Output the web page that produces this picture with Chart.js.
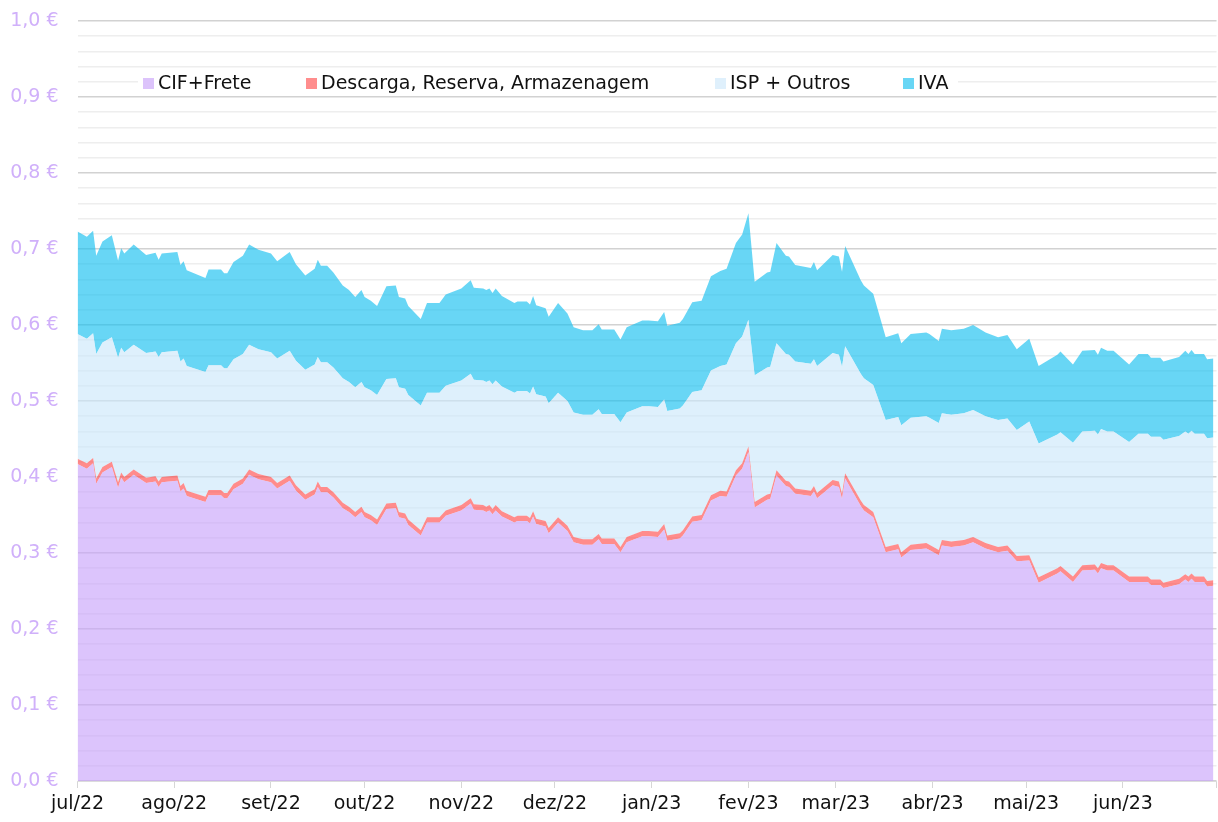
<!DOCTYPE html>
<html>
<head>
<meta charset="utf-8">
<script src="https://cdn.jsdelivr.net/npm/chart.js@4/dist/chart.umd.min.js"></script>
<style>
html,body{margin:0;padding:0;background:#fff;}
#wrap{width:1218px;height:822px;position:relative;}
</style>
</head>
<body>
<div id="wrap"><canvas id="c"></canvas></div>
<script>
// Day offsets since 1 Jul 2022
const days = [0,3,5,6,8,11,13,14,15,18,22,25,26,27,32,33,34,35,41,42,46,47,48,50,53,55,58,62,64,68,70,73,76,77,78,80,82,85,87,89,91,92,94,96,99,102,103,105,106,110,112,116,118,123,126,127,130,131,132,133,134,136,140,141,144,145,146,147,150,151,154,157,159,162,165,167,168,172,174,176,181,183,186,188,189,193,194,197,200,203,206,208,211,213,215,217,221,222,224,227,228,230,235,236,237,242,244,245,246,251,252,255,259,263,264,267,272,273,276,277,280,284,287,291,295,298,301,305,308,314,315,319,322,326,327,328,330,332,337,340,343,344,347,348,353,355,356,357,358,361,362,364];

const cifFrete = [0.417,0.411,0.418,0.391,0.406,0.413,0.386,0.399,0.393,0.403,0.392,0.394,0.387,0.393,0.395,0.381,0.385,0.375,0.367,0.376,0.376,0.372,0.372,0.384,0.391,0.403,0.397,0.393,0.385,0.395,0.382,0.370,0.377,0.387,0.380,0.380,0.373,0.359,0.354,0.347,0.354,0.347,0.343,0.337,0.358,0.359,0.347,0.345,0.337,0.323,0.340,0.340,0.349,0.356,0.365,0.357,0.356,0.354,0.356,0.351,0.356,0.348,0.340,0.342,0.342,0.339,0.348,0.338,0.335,0.326,0.340,0.329,0.314,0.311,0.311,0.318,0.312,0.312,0.301,0.314,0.322,0.322,0.321,0.331,0.316,0.319,0.323,0.341,0.343,0.369,0.375,0.374,0.402,0.411,0.433,0.360,0.370,0.371,0.402,0.388,0.387,0.378,0.375,0.381,0.372,0.389,0.387,0.371,0.398,0.362,0.356,0.347,0.301,0.305,0.294,0.304,0.306,0.304,0.297,0.310,0.308,0.310,0.314,0.306,0.301,0.303,0.289,0.290,0.261,0.273,0.276,0.262,0.277,0.278,0.273,0.280,0.277,0.277,0.262,0.262,0.262,0.258,0.258,0.254,0.259,0.265,0.262,0.266,0.262,0.262,0.256,0.257];

const descarga = [0.007,0.007,0.007,0.007,0.007,0.007,0.007,0.007,0.007,0.007,0.007,0.007,0.007,0.007,0.007,0.007,0.007,0.007,0.007,0.007,0.007,0.007,0.007,0.007,0.007,0.007,0.007,0.007,0.007,0.007,0.007,0.007,0.007,0.007,0.007,0.007,0.007,0.007,0.007,0.007,0.007,0.007,0.007,0.007,0.007,0.007,0.007,0.007,0.007,0.007,0.007,0.007,0.007,0.007,0.007,0.007,0.007,0.007,0.007,0.007,0.007,0.007,0.007,0.007,0.007,0.007,0.007,0.007,0.007,0.007,0.007,0.007,0.007,0.007,0.007,0.007,0.007,0.007,0.007,0.007,0.007,0.007,0.007,0.007,0.007,0.007,0.007,0.007,0.007,0.007,0.007,0.007,0.007,0.007,0.007,0.007,0.007,0.007,0.007,0.007,0.007,0.007,0.007,0.007,0.007,0.007,0.007,0.007,0.007,0.007,0.007,0.007,0.007,0.007,0.007,0.007,0.007,0.007,0.007,0.007,0.007,0.007,0.007,0.007,0.007,0.007,0.007,0.007,0.007,0.007,0.007,0.007,0.007,0.007,0.007,0.007,0.007,0.007,0.007,0.007,0.007,0.007,0.007,0.007,0.007,0.007,0.007,0.007,0.007,0.007,0.007,0.007];

const ispOutros = [0.164,0.164,0.164,0.164,0.164,0.164,0.164,0.164,0.164,0.164,0.164,0.164,0.164,0.164,0.164,0.164,0.164,0.164,0.164,0.164,0.164,0.164,0.164,0.164,0.164,0.164,0.164,0.164,0.164,0.164,0.164,0.164,0.164,0.164,0.164,0.164,0.164,0.164,0.164,0.164,0.164,0.164,0.164,0.164,0.164,0.164,0.164,0.164,0.164,0.164,0.164,0.164,0.164,0.164,0.164,0.164,0.164,0.164,0.164,0.164,0.164,0.164,0.164,0.164,0.164,0.164,0.164,0.164,0.164,0.164,0.164,0.164,0.164,0.164,0.164,0.164,0.164,0.164,0.164,0.164,0.164,0.164,0.164,0.164,0.164,0.164,0.164,0.164,0.164,0.164,0.164,
0.167,0.167,0.167,0.167,0.167,0.167,0.167,0.167,0.167,0.167,0.167,0.167,0.167,0.167,0.167,0.167,0.167,0.167,0.167,0.167,0.167,0.167,0.167,0.167,0.167,0.167,0.167,0.167,0.167,0.167,0.167,0.167,0.167,0.167,0.167,0.166,0.176,
0.176,0.176,0.176,0.176,0.176,0.176,0.176,0.176,0.176,0.176,0.177,
0.188,0.188,0.188,0.188,0.188,0.188,0.188,0.188,0.188,0.188,0.188,0.188,0.188];

const iva = [0.135,0.134,0.135,0.129,0.133,0.134,0.128,0.131,0.130,0.132,0.129,0.130,0.128,0.130,0.130,0.127,0.128,0.126,0.124,0.126,0.126,0.125,0.125,0.128,0.129,0.132,0.131,0.130,0.128,0.130,0.127,0.124,0.126,0.128,0.127,0.127,0.125,0.122,0.121,0.119,0.121,0.119,0.118,0.117,0.122,0.122,0.119,0.119,0.117,0.114,0.118,0.118,0.120,0.121,0.123,0.121,0.121,0.121,0.121,0.120,0.121,0.119,0.118,0.118,0.118,0.117,0.119,0.117,0.116,0.114,0.118,0.115,0.112,0.111,0.111,0.112,0.111,0.111,0.109,0.112,0.113,0.113,0.113,0.115,0.112,0.113,0.114,0.118,0.118,0.124,0.125,
0.126,0.132,0.134,0.140,0.123,0.125,0.125,0.132,0.129,0.129,0.127,0.126,0.128,0.126,0.129,0.129,0.125,0.132,0.123,0.122,0.120,0.109,0.110,0.108,0.110,0.110,0.110,0.108,0.111,0.111,0.111,0.112,0.110,0.109,0.110,0.106,0.109,
0.102,0.105,0.106,0.103,0.106,0.106,0.105,0.107,0.106,0.106,0.102,
0.105,0.105,0.104,0.104,0.103,0.104,0.106,0.105,0.106,0.105,0.105,0.104,0.104];

const seriesNames = ['CIF+Frete','Descarga, Reserva, Armazenagem','ISP + Outros','IVA'];
const monthTickDays = [0,31,62,92,123,153,184,215,243,274,304,335,365];
const monthLabels = ['jul/22','ago/22','set/22','out/22','nov/22','dez/22','jan/23','fev/23','mar/23','abr/23','mai/23','jun/23',''];

const fills = ['rgba(201,164,250,0.65)','rgba(255,78,78,0.65)','rgba(204,232,250,0.65)','rgba(23,192,240,0.65)'];
const legendBox = ['#dcc3fb','#ff8d8d','#dff0fc','#68d6f5'];
const legendX = [143,306,715,903];

const toPts = arr => arr.map((v,i)=>({x:days[i], y:v}));
const allSeries = [cifFrete, descarga, ispOutros, iva];

const FONT = '"DejaVu Sans", sans-serif';

const legendPlugin = {
  id:'customLegend',
  afterDraw(chart){
    const ctx = chart.ctx;
    ctx.save();
    ctx.fillStyle = '#ffffff';
    ctx.fillRect(138, 72, 820, 21);
    ctx.font = '19px ' + FONT;
    ctx.textBaseline = 'middle';
    ctx.textAlign = 'left';
    seriesNames.forEach((n,i)=>{
      const x = legendX[i];
      ctx.fillStyle = legendBox[i];
      ctx.fillRect(x, 78, 11, 11);
      ctx.fillStyle = '#111111';
      ctx.fillText(n, x + 15, 84);
    });
    ctx.restore();
  }
};

new Chart(document.getElementById('c'), {
  type:'line',
  data:{
    datasets: allSeries.map((arr,i)=>({
      label: seriesNames[i],
      data: toPts(arr),
      backgroundColor: fills[i],
      borderColor: 'rgba(0,0,0,0)',
      borderWidth: 0,
      pointRadius: 0,
      pointHoverRadius: 0,
      tension: 0,
      fill: i===0 ? 'origin' : '-1'
    }))
  },
  options:{
    responsive:true,
    maintainAspectRatio:false,
    animation:false,
    layout:{padding:{top:21, right:1.5, left:0, bottom:0}},
    plugins:{legend:{display:false}, tooltip:{enabled:false}},
    scales:{
      x:{
        type:'linear', min:0, max:365,
        afterBuildTicks: s => { s.ticks = monthTickDays.map(v=>({value:v})); },
        afterFit: s => { s.height = 41; s.paddingRight = 0; s.paddingLeft = 0; },
        ticks:{
          autoSkip:false, maxRotation:0, padding:5,
          color:'#111111', font:{family:FONT, size:19},
          callback: v => { const k = monthTickDays.indexOf(v); return k>=0 ? monthLabels[k] : ''; }
        },
        grid:{drawOnChartArea:false, drawTicks:true, tickLength:7, color:'#d6d6d6'},
        border:{display:true, color:'#dcdcdc'}
      },
      y:{
        stacked:true, min:0, max:1,
        afterFit: s => { s.width = 77.5; s.paddingTop = 0; s.paddingBottom = 0; },
        ticks:{
          stepSize:0.02, autoSkip:false, padding:19,
          color:'#d0b0fa', font:{family:FONT, size:19},
          callback: v => { const h = Math.round(v*100); return h%10===0 ? (h/100).toFixed(1).replace('.',',')+' €' : ''; }
        },
        grid:{
          drawTicks:false,
          color: c => (Math.round(c.tick.value*100)%10===0) ? '#d2d2d2' : '#eeeeee',
          lineWidth: 1.5
        },
        border:{display:false}
      }
    }
  },
  plugins:[legendPlugin]
});
</script>
</body>
</html>
